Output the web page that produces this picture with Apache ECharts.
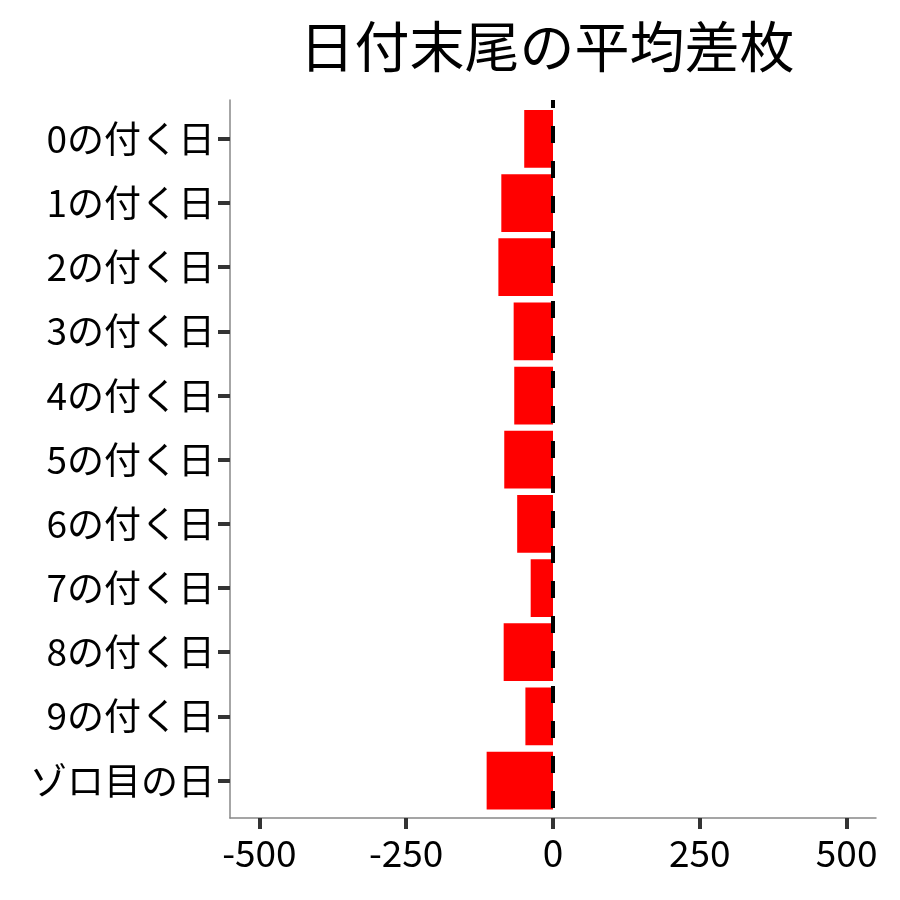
<!DOCTYPE html>
<html><head><meta charset="utf-8">
<script src="https://cdn.jsdelivr.net/npm/echarts@6/dist/echarts.min.js"></script>
<style>html,body{margin:0;padding:0;background:#fff}#c{width:900px;height:900px}</style>
</head><body><div id="c"></div>
<script>
const titleText = '日付末尾の平均差枚';
const categories = ['0の付く日','1の付く日','2の付く日','3の付く日','4の付く日','5の付く日','6の付く日','7の付く日','8の付く日','9の付く日','ゾロ目の日'];
const values = [-49, -88, -93, -67, -66, -83, -61, -38, -84, -47, -113];
const xTicks = [-500, -250, 0, 250, 500];
const xMin = -550, xMax = 550;
const refLine = 0;

const FONT = '"Noto Sans CJK JP", "Noto Sans", sans-serif';
const chart = echarts.init(document.getElementById('c'), null, {renderer: 'canvas'});
chart.setOption({
  backgroundColor: '#fff',
  animation: false,
  title: {
    text: titleText, left: 542, top: 14, textAlign: 'center',
    textStyle: {fontFamily: FONT, fontSize: 55, fontWeight: 'normal', color: '#000'}
  },
  grid: [
    {left: 230, right: 24, top: 100, bottom: 82},
    {left: 230, right: 24, top: 106.8, bottom: 87.4}
  ],
  xAxis: [
    {
      gridIndex: 0, type: 'value', min: xMin, max: xMax,
      axisLine: {show: true, onZero: false, lineStyle: {color: '#888', width: 1.5}},
      axisTick: {show: true, length: 11, customValues: xTicks, lineStyle: {color: '#333', width: 4}},
      axisLabel: {show: true, customValues: xTicks, margin: 16, fontFamily: FONT, fontSize: 37, color: '#000'},
      splitLine: {show: false}
    },
    {gridIndex: 1, type: 'value', min: xMin, max: xMax, show: false, splitLine: {show: false}}
  ],
  yAxis: [
    {
      gridIndex: 0, type: 'value', min: 0, max: 1,
      axisLine: {show: true, onZero: false, lineStyle: {color: '#888', width: 1.5}},
      axisTick: {show: false}, axisLabel: {show: false}, splitLine: {show: false}
    },
    {
      gridIndex: 1, type: 'category', data: categories, inverse: true,
      axisLine: {show: true, onZero: false, lineStyle: {color: '#888', width: 1.5, opacity: 0}},
      axisTick: {show: true, alignWithLabel: true, length: 12, lineStyle: {color: '#333', width: 4, opacity: 1}},
      axisLabel: {margin: 15, fontFamily: FONT, fontSize: 37, color: '#000'},
      splitLine: {show: false}
    }
  ],
  series: [
    {
      type: 'bar', xAxisIndex: 1, yAxisIndex: 1, data: values,
      barCategoryGap: '10%', itemStyle: {color: '#ff0000'}, z: 2
    },
    {
      type: 'line', xAxisIndex: 0, yAxisIndex: 0,
      data: [[refLine, 1], [refLine, 0]], symbol: 'none', silent: true, z: 5,
      lineStyle: {color: '#000', width: 4, type: [17, 18], dashOffset: 9}
    }
  ]
});
</script></body></html>
